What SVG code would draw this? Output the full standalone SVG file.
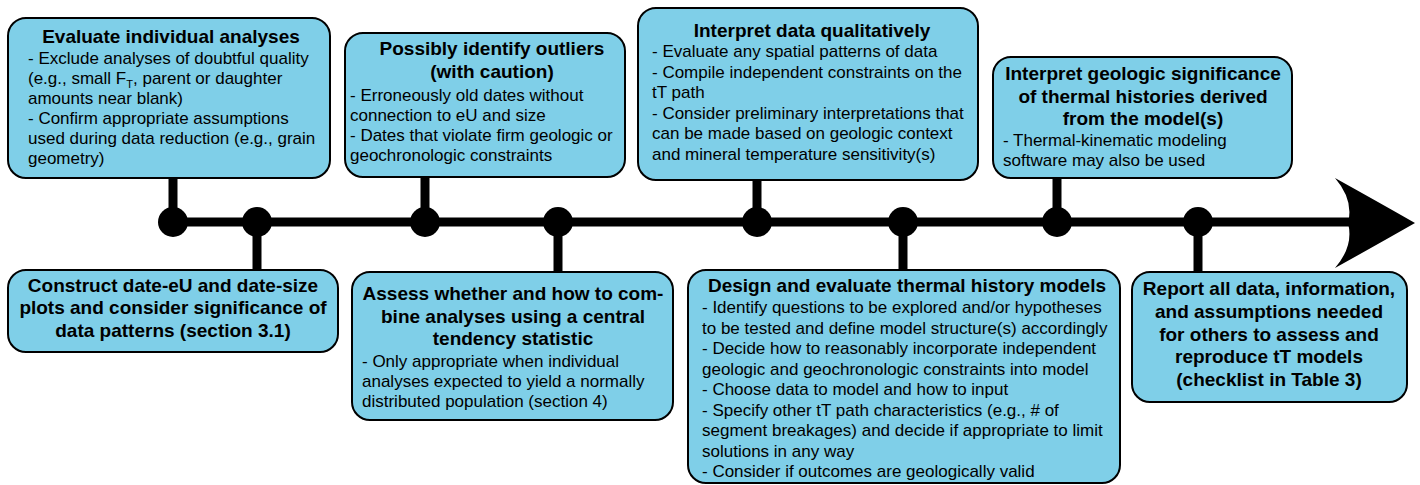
<svg xmlns="http://www.w3.org/2000/svg" width="1420" height="485" viewBox="0 0 1420 485">
<style>
.box{fill:#7fcfe8;stroke:#000;stroke-width:2}
.t{font-family:"Liberation Sans",Arial,sans-serif;font-size:19px;font-weight:bold;fill:#000;text-anchor:middle}
.b{font-family:"Liberation Sans",Arial,sans-serif;font-size:17px;fill:#000}
.ln{stroke:#000;stroke-width:9;fill:none}
</style>
<rect width="1420" height="485" fill="#fff"/>
<g id="connectors">
<line class="ln" x1="173" y1="222" x2="1350" y2="222"/>
<path d="M1335,178 Q1380,203 1415,223 Q1380,243 1335,268 Q1354,246 1348,223 Q1354,200 1335,178 Z" fill="#000"/>
<line class="ln" x1="173" y1="178" x2="173" y2="222"/>
<line class="ln" x1="257" y1="222" x2="257" y2="271"/>
<line class="ln" x1="425" y1="177" x2="425" y2="222"/>
<line class="ln" x1="558" y1="222" x2="558" y2="273"/>
<line class="ln" x1="757" y1="180" x2="757" y2="222"/>
<line class="ln" x1="903" y1="222" x2="903" y2="271"/>
<line class="ln" x1="1057" y1="178" x2="1057" y2="222"/>
<line class="ln" x1="1198" y1="222" x2="1198" y2="273"/>
<g fill="#000">
<circle cx="173" cy="222" r="15"/>
<circle cx="257" cy="222" r="15"/>
<circle cx="425" cy="222" r="15"/>
<circle cx="558" cy="222" r="15"/>
<circle cx="757" cy="222" r="15"/>
<circle cx="903" cy="222" r="15"/>
<circle cx="1057" cy="222" r="15"/>
<circle cx="1198" cy="222" r="15"/>
</g>
</g>
<g id="evaluate">
<rect class="box" x="8" y="18" width="322" height="160" rx="18"/>
<text class="t" x="171" y="43">Evaluate individual analyses</text>
<text class="b" x="28" y="64">- Exclude analyses of doubtful quality</text>
<text class="b" x="28" y="84">(e.g., small F<tspan font-size="11" dy="4">T</tspan><tspan dy="-4">, parent or daughter</tspan></text>
<text class="b" x="28" y="104">amounts near blank)</text>
<text class="b" x="28" y="124">- Confirm appropriate assumptions</text>
<text class="b" x="28" y="144">used during data reduction (e.g., grain</text>
<text class="b" x="28" y="164">geometry)</text>
</g>
<g id="construct">
<rect class="box" x="8" y="270" width="330" height="82" rx="18"/>
<text class="t" x="173" y="292">Construct date-eU and date-size</text>
<text class="t" x="173" y="314">plots and consider significance of</text>
<text class="t" x="173" y="337">data patterns (section 3.1)</text>
</g>
<g id="outliers">
<rect class="box" x="345" y="33" width="280" height="144" rx="18"/>
<text class="t" x="492" y="55">Possibly identify outliers</text>
<text class="t" x="492" y="78">(with caution)</text>
<text class="b" x="350" y="101">- Erroneously old dates without</text>
<text class="b" x="350" y="121">connection to eU and size</text>
<text class="b" x="350" y="141">- Dates that violate firm geologic or</text>
<text class="b" x="350" y="161">geochronologic constraints</text>
</g>
<g id="assess">
<rect class="box" x="352" y="272" width="321" height="148" rx="18"/>
<text class="t" x="513" y="300">Assess whether and how to com-</text>
<text class="t" x="513" y="323">bine analyses using a central</text>
<text class="t" x="513" y="345">tendency statistic</text>
<text class="b" x="362" y="367">- Only appropriate when individual</text>
<text class="b" x="362" y="387">analyses expected to yield a normally</text>
<text class="b" x="362" y="407">distributed population (section 4)</text>
</g>
<g id="interpret-data">
<rect class="box" x="638" y="8" width="340" height="172" rx="18"/>
<text class="t" x="812" y="37">Interpret data qualitatively</text>
<text class="b" x="652" y="57">- Evaluate any spatial patterns of data</text>
<text class="b" x="652" y="77.5">- Compile independent constraints on the</text>
<text class="b" x="652" y="98">tT path</text>
<text class="b" x="652" y="118.5">- Consider preliminary interpretations that</text>
<text class="b" x="652" y="139">can be made based on geologic context</text>
<text class="b" x="652" y="159.5">and mineral temperature sensitivity(s)</text>
</g>
<g id="design">
<rect class="box" x="688" y="270" width="432" height="213" rx="18"/>
<text class="t" x="907" y="292">Design and evaluate thermal history models</text>
<text class="b" x="702" y="313">- Identify questions to be explored and/or hypotheses</text>
<text class="b" x="702" y="333.5">to be tested and define model structure(s) accordingly</text>
<text class="b" x="702" y="354">- Decide how to reasonably incorporate independent</text>
<text class="b" x="702" y="374.5">geologic and geochronologic constraints into model</text>
<text class="b" x="702" y="395">- Choose data to model and how to input</text>
<text class="b" x="702" y="415.5">- Specify other tT path characteristics (e.g., # of</text>
<text class="b" x="702" y="436">segment breakages) and decide if appropriate to limit</text>
<text class="b" x="702" y="456.5">solutions in any way</text>
<text class="b" x="702" y="477">- Consider if outcomes are geologically valid</text>
</g>
<g id="interpret-geologic">
<rect class="box" x="993" y="57" width="299" height="121" rx="18"/>
<text class="t" x="1143" y="80">Interpret geologic significance</text>
<text class="t" x="1143" y="103">of thermal histories derived</text>
<text class="t" x="1143" y="125">from the model(s)</text>
<text class="b" x="1003" y="146">- Thermal-kinematic modeling</text>
<text class="b" x="1003" y="166">software may also be used</text>
</g>
<g id="report">
<rect class="box" x="1132" y="272" width="275" height="130" rx="18"/>
<text class="t" x="1269" y="295">Report all data, information,</text>
<text class="t" x="1269" y="318">and assumptions needed</text>
<text class="t" x="1269" y="341">for others to assess and</text>
<text class="t" x="1269" y="363">reproduce tT models</text>
<text class="t" x="1269" y="386">(checklist in Table 3)</text>
</g>
</svg>
